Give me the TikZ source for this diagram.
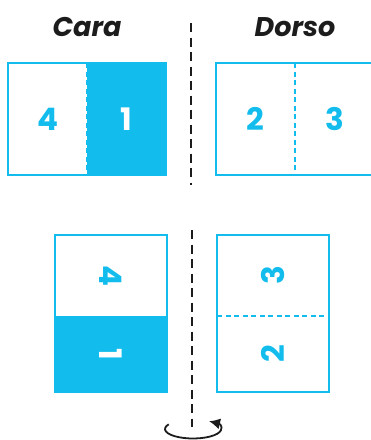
\documentclass[tikz,border=0pt]{standalone}
\usepackage{fontspec}
\setmainfont{Poppins}
\usetikzlibrary{arrows.meta,positioning}
\definecolor{FoldCyan}{HTML}{12BCEC}
\definecolor{FoldInk}{HTML}{1C1C1C}

\begin{document}
\begin{tikzpicture}[x=1pt,y=-1pt,
    face/.style={inner sep=0pt,outer sep=0pt,minimum width=79pt,minimum height=112pt},
    leaf/.style={inner sep=0pt,outer sep=0pt,minimum width=112pt,minimum height=#1},
    inked/.style={fill=FoldCyan},
    frame/.style={draw=FoldCyan,line width=1.4pt},
    crease/.style={draw=FoldCyan,line width=1.4pt,dash pattern=on 5pt off 3.5pt},
    axis/.style={draw=FoldInk,line width=1.6pt,dash pattern=on 9pt off 5.5pt},
    turn/.style={draw=FoldInk,line width=1.8pt,-{Latex[length=11pt,width=11pt]}},
    digit/.style={font=\bfseries\fontsize{31}{31}\selectfont,text=FoldCyan,inner sep=0pt},
    title/.style={font=\bfseries\itshape\fontsize{27}{27}\selectfont,text=FoldInk,inner sep=0pt}
  ]
    \useasboundingbox (0,0) rectangle (371,440);
    \clip (0,0) rectangle (371,440);

    \node[title] (cara) at (87,27) {Cara};
    \node[title] (dorso) at (295,27) {Dorso};

    % flat sheet, both sides
    \node[face] (f4) at (47.5,119) {};
    \node[face,inked] (f1) at (126.5,119) {};
    \node[face] (r2) at (255.5,119) {};
    \node[face] (r3) at (334.5,119) {};
    \draw[frame] (f4.north west) rectangle (f1.south east);
    \draw[frame] (r2.north west) rectangle (r3.south east);
    \draw[crease] (f4.north east) -- (f4.south east);
    \draw[crease] (r2.north east) -- (r2.south east);

    \node[digit] (n4) at (f4) {4};
    \node[digit,text=white] (n1) at (f1) {1};
    \node[digit] (n2) at (r2) {2};
    \node[digit] (n3) at (r3) {3};

    % folded card, both sides
    \node[leaf=81pt] (l4) at (111,275.5) {};
    \node[leaf=76pt,inked] (l1) at (111,354) {};
    \node[leaf=81pt] (k3) at (273,275.5) {};
    \node[leaf=76pt] (k2) at (273,354) {};
    \draw[frame] (l4.north west) rectangle (l1.south east);
    \draw[frame] (k3.north west) rectangle (k2.south east);
    \draw[crease] (k3.south west) -- (k3.south east);

    \node[digit,rotate=-90] (m4) at (l4) {4};
    \node[digit,rotate=-90,text=white] (m1) at (l1) {1};
    \node[digit,rotate=90] (m3) at (k3) {3};
    \node[digit,rotate=90] (m2) at (k2) {2};

    % turning axis
    \coordinate (axtop) at (191,23);
    \coordinate (axmid) at (191,185);
    \coordinate (axlow) at (192,230);
    \coordinate (axend) at (192,427);
    \coordinate (spin) at (193,429);
    \draw[axis] (axtop) -- (axmid);
    \draw[axis] (axlow) -- (axend);
    \draw[turn] (spin) ++(210:28 and 9.5) arc[start angle=210,end angle=-55,x radius=28,y radius=9.5];
  \end{tikzpicture}
\end{document}
